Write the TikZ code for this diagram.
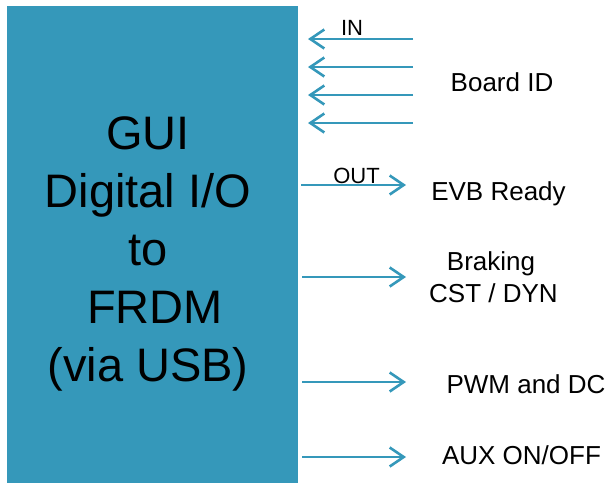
\documentclass[tikz,border=0pt]{standalone}
\usepackage{fontspec}
\setmainfont{Liberation Sans}
\usetikzlibrary{arrows.meta}
\definecolor{teal1}{HTML}{3598BA}
\begin{document}
\begin{tikzpicture}[x=1pt,y=-1pt,
  sig/.style={draw=teal1, line width=2.6pt, -{Straight Barb[length=14pt,width=19pt,line width=2.6pt]}},
  lbl/.style={inner sep=0pt, anchor=base, font=\fontsize{26}{31}\selectfont},
  tag/.style={inner sep=0pt, anchor=base, font=\fontsize{22}{26}\selectfont}]
\useasboundingbox (0,0) rectangle (609,483);
\node[fill=teal1, minimum width=291pt, minimum height=477pt, anchor=north west, inner sep=0pt, outer sep=0pt] (gui) at (7,6) {};
\node[align=center, inner sep=0pt, font=\fontsize{47}{58}\selectfont] (guitext) at (148,254)
  {GUI\\Digital I/O\\to\\\hspace*{0.3em}FRDM\\(via USB)};
% IN arrows
\coordinate (in1s) at (413,39);  \coordinate (in1e) at (308,39);
\coordinate (in2s) at (413,67);  \coordinate (in2e) at (308,67);
\coordinate (in3s) at (413,95);  \coordinate (in3e) at (308,95);
\coordinate (in4s) at (413,123); \coordinate (in4e) at (308,123);
\draw[sig] (in1s) -- (in1e);
\draw[sig] (in2s) -- (in2e);
\draw[sig] (in3s) -- (in3e);
\draw[sig] (in4s) -- (in4e);
% OUT arrows
\coordinate (o1s) at (301,185); \coordinate (o1e) at (406,185);
\coordinate (o2s) at (302,277); \coordinate (o2e) at (406,277);
\coordinate (o3s) at (302,382); \coordinate (o3e) at (406,382);
\coordinate (o4s) at (302,457); \coordinate (o4e) at (406,457);
\draw[sig] (o1s) -- (o1e);
\draw[sig] (o2s) -- (o2e);
\draw[sig] (o3s) -- (o3e);
\draw[sig] (o4s) -- (o4e);
% labels
\node[tag] (in) at (352,35) {IN};
\node[tag] (out) at (356.5,183) {OUT};
\node[lbl] (bid) at (502,91) {Board ID};
\node[lbl] (evb) at (498.5,200) {EVB Ready};
\node[lbl] (brk) at (491,270) {Braking};
\node[lbl] (cst) at (493.5,302) {CST / DYN};
\node[lbl] (pwm) at (526,393) {PWM and DC};
\node[lbl] (aux) at (521.5,464) {AUX ON/OFF};
\end{tikzpicture}
\end{document}
